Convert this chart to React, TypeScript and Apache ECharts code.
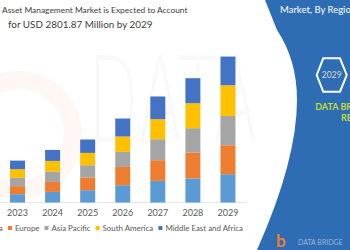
import React, { useEffect, useRef } from "react";
import * as echarts from "echarts";

const years = ["2023", "2024", "2025", "2026", "2027", "2028", "2029"];
const seriesNames = ["North America", "Europe", "Asia Pacific", "South America", "Middle East and Africa"];
const northAmerica = [160, 203, 236, 332, 415, 461, 543];
const europe = [154, 192, 244, 351, 397, 499, 556];
const asiaPacific = [160, 198, 236, 288, 403, 466, 562];
const southAmerica = [165, 205, 236, 296, 384, 480, 589];
const middleEastAfrica = [165, 211, 257, 345, 436, 480, 551];
const colors = ["#5B9BD5", "#ED7D31", "#A5A5A5", "#FFC000", "#4472C4"];
const titleLine1 = "Asset Management Market is Expected to Account";
const titleLine2 = "for USD 2801.87 Million by 2029";

const panelPath = "M265 0 L277 30 Q297 60 297 100 Q297 160 257 250 L350 250 L350 0 Z";
echarts.graphic.registerShape("bluePanel", echarts.graphic.extendPath(panelPath, {}) as any);

export default function App() {
  const ref = useRef<HTMLDivElement>(null);
  useEffect(() => {
    if (!ref.current) return;
    const chart = echarts.init(ref.current, null, { renderer: "svg" });
    const values = [northAmerica, europe, asiaPacific, southAmerica, middleEastAfrica];
    const font = "Lato";
    chart.setOption({
      animation: false,
      textStyle: { fontFamily: font },
      title: [
        { text: titleLine1, left: 2, top: 5.5, padding: 0, textStyle: { fontSize: 8.4, fontWeight: "normal", color: "#404040", fontFamily: font } },
        { text: titleLine2, left: 8, top: 19, padding: 0, textStyle: { fontSize: 9.9, fontWeight: "normal", color: "#404040", fontFamily: font } },
      ],
      grid: { left: -17, right: 104.5, top: 46.2, bottom: 47.5, containLabel: false },
      xAxis: {
        type: "category",
        data: years,
        axisLine: { show: true, lineStyle: { color: "#e6e6e6" } },
        axisTick: { show: false },
        axisLabel: { color: "#595959", fontSize: 9, margin: 5, fontFamily: font },
      },
      yAxis: { type: "value", min: 0, max: 3000, show: false, splitLine: { show: false } },
      legend: {
        left: -55,
        top: 224,
        padding: 0,
        itemWidth: 4,
        itemHeight: 4,
        itemGap: 5,
        icon: "rect",
        textStyle: { fontSize: 7.9, color: "#595959", fontWeight: "normal", fontFamily: font, padding: [0, 0, 0, -2] },
        data: seriesNames,
      },
      series: seriesNames.map((name, i) => ({
        name,
        type: "bar",
        stack: "total",
        barWidth: 15,
        z: 3,
        itemStyle: { color: colors[i] },
        data: values[i],
      })),
      graphic: [
        {
          type: "text",
          left: 88,
          top: 40,
          z: -10,
          silent: true,
          style: { text: "DATA", font: "100 120px 'DejaVu Sans'", fill: "rgba(0,0,0,0.025)" },
          scaleX: 0.55,
        },
        {
          type: "circle",
          shape: { cx: 18, cy: 135, r: 55 },
          z: -10,
          silent: true,
          style: { fill: "none", stroke: "rgba(237,125,49,0.06)", lineWidth: 18 },
        },
        {
          type: "bluePanel",
          x: 0,
          y: 0,
          z: 1,
          silent: true,
          style: { fill: "#2E6DB4" },
        },
        {
          type: "text",
          x: 280,
          y: 9,
          z: 2,
          style: { text: "Market, By Region", fill: "#ffffff", font: "9.5px Lato", textVerticalAlign: "middle" },
        },
        {
          type: "polygon",
          z: 2,
          shape: { points: [[316.7, 75], [323.3, 58.3], [340, 58.3], [346.7, 75], [340, 91.7], [323.3, 91.7]] },
          style: { fill: "none", stroke: "#ffffff", lineWidth: 2 },
        },
        {
          type: "text",
          x: 331.7,
          y: 75,
          z: 3,
          style: { text: "2029", fill: "#dcdcdc", font: "8.5px Lato", textAlign: "center", textVerticalAlign: "middle" },
        },
        {
          type: "text",
          x: 364,
          y: 112,
          z: 3,
          style: { text: "DATA BRIDGE MARKET\nRESEARCH", fill: "#C5DB3A", font: "bold 9px Lato", textAlign: "center", textVerticalAlign: "middle", lineHeight: 11.5 },
        },
        {
          type: "text",
          x: 276,
          y: 240,
          z: 3,
          style: { text: "b", fill: "#ED7D31", font: "bold 17px Lato", textVerticalAlign: "middle" },
        },
        {
          type: "text",
          x: 298,
          y: 242,
          z: 3,
          style: { text: "DATA BRIDGE", fill: "rgba(220,230,245,0.6)", font: "7px Lato", textVerticalAlign: "middle" },
        },
      ],
    });
    return () => chart.dispose();
  }, []);
  return <div ref={ref} style={{ width: 350, height: 250, position: "absolute", left: 0, top: 0 }} />;
}
